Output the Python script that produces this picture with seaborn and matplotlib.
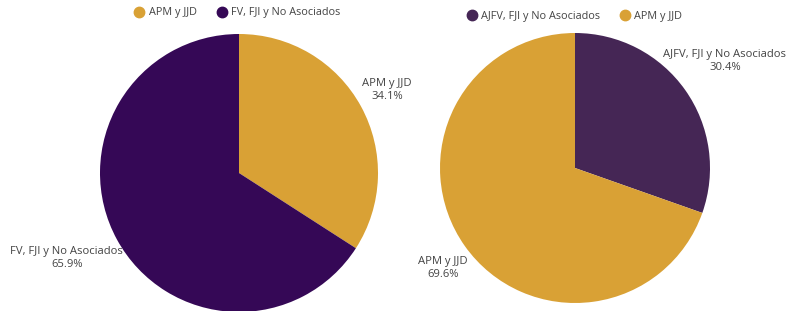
import matplotlib
matplotlib.use("Agg")
import matplotlib.pyplot as plt
from matplotlib.lines import Line2D
import seaborn as sns

sns.set_theme(style="white")
plt.rcParams['font.family'] = ['Open Sans', 'DejaVu Sans']

# Data
left_labels = ["APM y JJD", "FV, FJI y No Asociados"]
left_values = [34.1, 65.9]
right_labels = ["AJFV, FJI y No Asociados", "APM y JJD"]
right_values = [30.4, 69.6]

gold = "#D9A135"
purple_dark = "#350856"
purple_right = "#452655"
left_colors = [gold, purple_dark]
right_colors = [purple_right, gold]

W, H = 788, 311
fig = plt.figure(figsize=(W / 100, H / 100), dpi=100)

def add_ax(cx, cy, r):
    ax = fig.add_axes([(cx - r) / W, (H - cy - r) / H, 2 * r / W, 2 * r / H])
    return ax

def finish(ax):
    ax.set_xlim(-1, 1)
    ax.set_ylim(-1, 1)
    ax.set_aspect("equal")
    ax.axis("off")

text_color = "#444444"

axL = add_ax(239, 173, 139)
axL.pie(left_values, colors=left_colors, startangle=90, counterclock=False,
        radius=1, wedgeprops=dict(linewidth=0))
finish(axL)
lpos = [(1.065, 0.60), (-1.24, -0.61)]
for lab, v, (x, y) in zip(left_labels, left_values, lpos):
    axL.text(x, y, f"{lab}\n{v:.1f}%", ha="center", va="center", fontsize=8.1,
             color=text_color, linespacing=1.25, clip_on=False)

axR = add_ax(575, 168, 135)
axR.pie(right_values, colors=right_colors, startangle=90, counterclock=False,
        radius=1, wedgeprops=dict(linewidth=0))
finish(axR)
rpos = [(1.11, 0.79), (-0.98, -0.74)]
for lab, v, (x, y) in zip(right_labels, right_values, rpos):
    axR.text(x, y, f"{lab}\n{v:.1f}%", ha="center", va="center", fontsize=8.1,
             color=text_color, linespacing=1.25, clip_on=False)

def legend(labels, colors, cx, cy):
    handles = [Line2D([0], [0], marker="o", linestyle="", markersize=7.5,
                      markerfacecolor=c, markeredgecolor=c) for c in colors]
    fig.legend(handles, labels, loc="center", bbox_to_anchor=(cx / W, 1 - cy / H),
               ncol=2, frameon=False, fontsize=7.8, handletextpad=0.35,
               handlelength=1.0, columnspacing=1.8, labelcolor=text_color)

legend(left_labels, left_colors, 237, 13)
legend(right_labels, right_colors, 574, 16)

fig.savefig("out.png", dpi=100)
